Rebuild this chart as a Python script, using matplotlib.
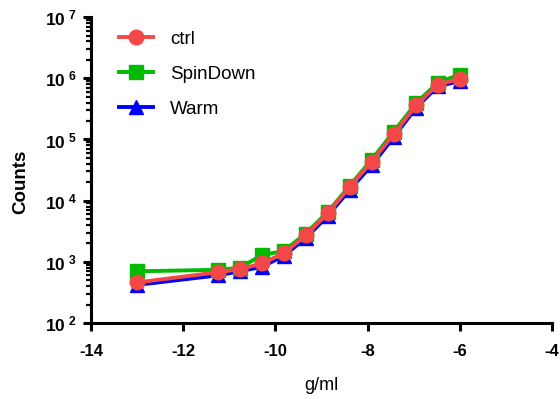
import math
import matplotlib
matplotlib.use('Agg')
import matplotlib.pyplot as plt
from matplotlib.ticker import FixedLocator, LogLocator, FuncFormatter, NullFormatter

plt.rcParams['font.family'] = ['Liberation Sans', 'DejaVu Sans']
plt.rcParams['mathtext.fontset'] = 'custom'
plt.rcParams['mathtext.rm'] = 'Liberation Sans:bold'
plt.rcParams['mathtext.bf'] = 'Liberation Sans:bold'

# log10 of concentration (g/ml), 3-fold dilution series; -13 stands for the blank
conc = [-13, -11.25, -10.77, -10.29, -9.82, -9.34, -8.86, -8.39, -7.91, -7.43, -6.95, -6.48, -6.0]

ctrl = [460, 675, 760, 940, 1380, 2700, 6300, 16700, 43500, 123000, 360000, 790000, 980000]
spindown = [700, 740, 800, 1290, 1500, 2900, 6600, 17500, 47000, 135000, 390000, 850000, 1150000]
warm = [420, 600, 700, 830, 1250, 2450, 5700, 15000, 38000, 110000, 330000, 740000, 900000]

xticks = [-14, -12, -10, -8, -6, -4]

fig = plt.figure(figsize=(5.6, 3.99), dpi=100)
ax = fig.add_axes([0.1625, 0.1905, 0.8232, 0.7665])

ax.plot(conc, warm, '-^', color='#0000FF', lw=2.8, markersize=10, label='Warm', zorder=3)
ax.plot(conc, spindown, '-s', color='#00BB00', lw=2.8, markersize=10.5, label='SpinDown', zorder=4)
ax.plot(conc, ctrl, '-o', color='#F44848', lw=2.8, markersize=10.5, label='ctrl', zorder=5)

ax.set_yscale('log')
ax.set_xlim(-14, -4)
ax.set_ylim(1e2, 1e7)

for s in ['top', 'right']:
    ax.spines[s].set_visible(False)
for s in ['left', 'bottom']:
    ax.spines[s].set_linewidth(2.2)

ax.xaxis.set_major_locator(FixedLocator(xticks))
ax.set_xticklabels([str(t) for t in xticks], fontweight='bold', fontsize=12)
ax.yaxis.set_major_locator(LogLocator(base=10, numticks=10))
ax.yaxis.set_minor_locator(LogLocator(base=10, subs=range(2, 10), numticks=20))
ax.yaxis.set_major_formatter(FuncFormatter(lambda v, p: r'$\mathbf{10^{\ %d}}$' % round(math.log10(v))))
ax.yaxis.set_minor_formatter(NullFormatter())
ax.tick_params(axis='x', direction='out', length=6, width=2.2, pad=9)
ax.tick_params(axis='y', which='major', direction='out', length=6, width=2.2, pad=4, labelsize=12.5)
ax.tick_params(axis='y', which='minor', direction='out', length=3.5, width=1.6)

ax.set_ylabel('Counts', fontsize=13.5, fontweight='bold')
ax.yaxis.set_label_coords(-0.135, 0.46)
ax.set_xlabel('g/ml', fontsize=13)
ax.xaxis.set_label_coords(0.5, -0.175)

h, l = ax.get_legend_handles_labels()
ax.legend(h[::-1], l[::-1], loc='upper left', bbox_to_anchor=(0.045, 0.98), frameon=False,
          fontsize=13.5, handlelength=1.8, handletextpad=0.9, labelspacing=0.95, borderaxespad=0)

fig.savefig('out.png', dpi=100)
